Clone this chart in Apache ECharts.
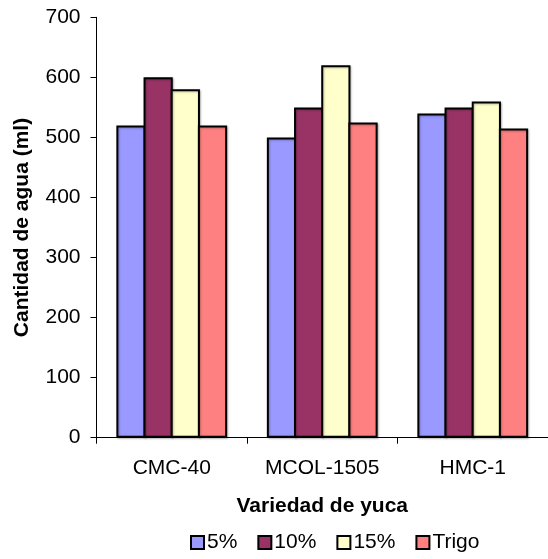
<!DOCTYPE html>
<html>
<head>
<meta charset="utf-8">
<script src="https://cdn.jsdelivr.net/npm/echarts@6/dist/echarts.min.js"></script>
<style>
  html, body { margin: 0; padding: 0; background: #fff; overflow: hidden; }
  #chart { width: 548px; height: 559px; }
</style>
</head>
<body>
<div id="chart"></div>
<script>
// Water absorption per cassava variety and flour mix
const varieties = ['CMC-40', 'MCOL-1505', 'HMC-1'];
const yTicks = [0, 100, 200, 300, 400, 500, 600, 700];
const mix5 = [520, 500, 540];
const mix10 = [600, 550, 550];
const mix15 = [580, 620, 560];
const trigo = [520, 525, 515];

const seriesNames = ['5%', '10%', '15%', 'Trigo'];
const seriesColors = ['#9999FF', '#993366', '#FFFFCC', '#FF8080'];
const seriesData = [mix5, mix10, mix15, trigo];

const font = '"Liberation Sans", Arial, sans-serif';

const chart = echarts.init(document.getElementById('chart'), null, { renderer: 'canvas' });
chart.setOption({
  animation: false,
  backgroundColor: '#ffffff',
  textStyle: { fontFamily: font },
  // plot area runs slightly past the right edge of the canvas
  grid: { left: 96.5, right: -3, top: 17.3, bottom: 121.3, containLabel: false },
  legend: {
    top: 532,
    left: 190,
    padding: 0,
    icon: 'rect',
    itemWidth: 13,
    itemHeight: 13,
    itemGap: 20,
    data: seriesNames,
    textStyle: { fontFamily: font, fontSize: 21, color: '#000', padding: [0, 0, 0, -2] },
    itemStyle: { borderColor: '#000', borderWidth: 2 }
  },
  xAxis: {
    type: 'category',
    data: varieties,
    name: 'Variedad de yuca',
    nameLocation: 'middle',
    nameGap: 58,
    nameTextStyle: { fontFamily: font, fontSize: 21, fontWeight: 'bold', color: '#000' },
    axisLine: { lineStyle: { color: '#000', width: 1 } },
    axisTick: { show: true, length: 6, lineStyle: { color: '#000' } },
    axisLabel: { fontFamily: font, fontSize: 21, color: '#000', margin: 20 },
    splitLine: { show: false }
  },
  yAxis: {
    type: 'value',
    min: yTicks[0],
    max: yTicks[yTicks.length - 1],
    interval: 100,
    name: 'Cantidad de agua (ml)',
    nameLocation: 'middle',
    nameGap: 64,
    nameRotate: 90,
    nameTextStyle: { fontFamily: font, fontSize: 21, fontWeight: 'bold', color: '#000' },
    axisLine: { show: true, lineStyle: { color: '#000', width: 1 } },
    axisTick: { show: true, length: 6, lineStyle: { color: '#000' } },
    axisLabel: { fontFamily: font, fontSize: 21, color: '#000', margin: 16 },
    splitLine: { show: false }
  },
  series: seriesNames.map((name, i) => ({
    name: name,
    type: 'bar',
    data: seriesData[i],
    // neighbouring bars share a single outline
    barGap: '-7%',
    barCategoryGap: '26.4%',
    itemStyle: {
      color: seriesColors[i],
      borderColor: '#000',
      borderWidth: 2,
      shadowColor: 'rgba(0,0,0,0.25)',
      shadowBlur: 2,
      shadowOffsetX: 1,
      shadowOffsetY: 1
    }
  }))
});
</script>
</body>
</html>
